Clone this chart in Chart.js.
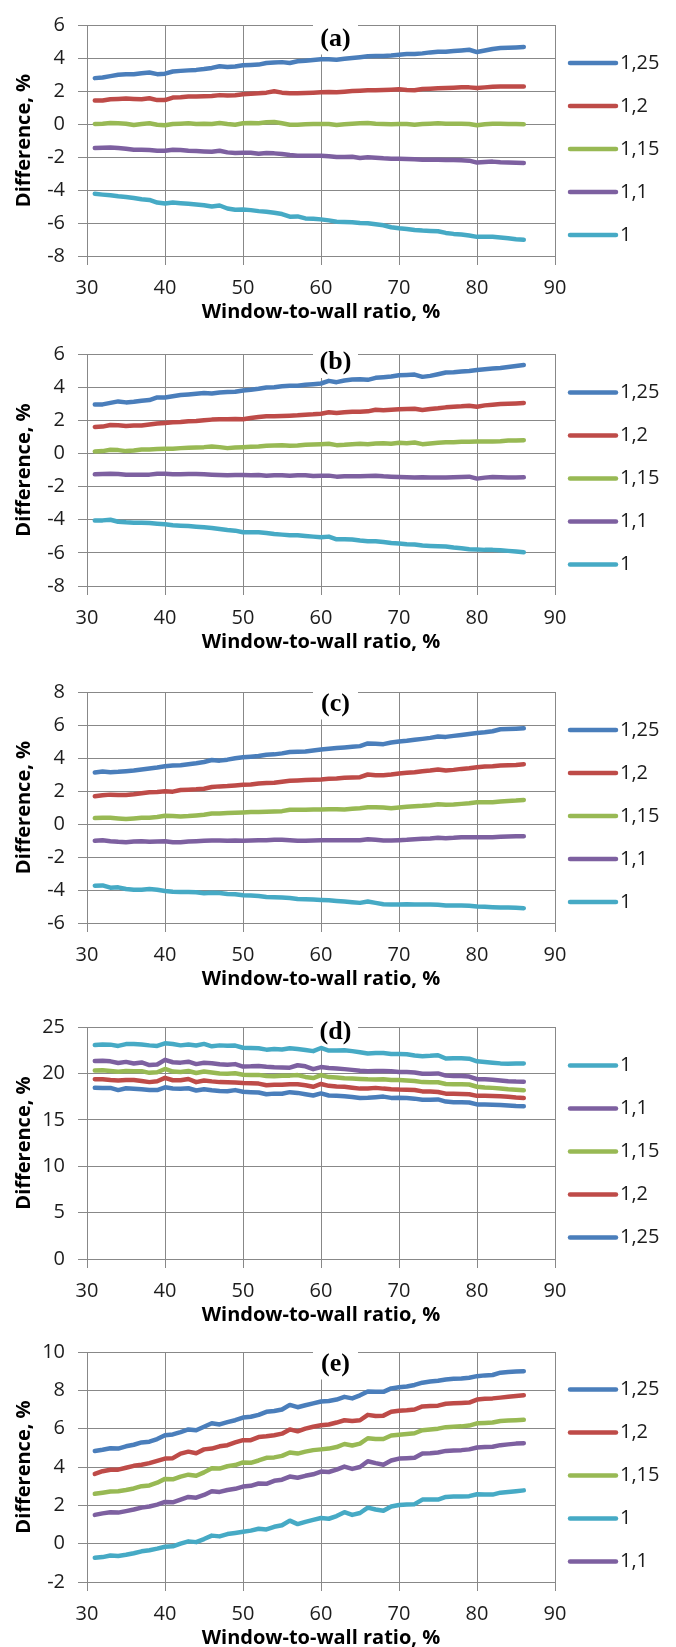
<!DOCTYPE html>
<html><head><meta charset="utf-8">
<script src="https://cdn.jsdelivr.net/npm/chart.js@4/dist/chart.umd.min.js"></script>
<style>
html,body{margin:0;padding:0;background:#fff;}
#wrap{position:relative;width:676px;height:1647px;overflow:hidden;background:#fff;}
canvas{position:absolute;left:0;}
</style></head><body>
<div id="wrap">
<canvas id="pa" width="676" height="324" style="top:0px"></canvas>
<canvas id="pb" width="676" height="325" style="top:329px"></canvas>
<canvas id="pc" width="676" height="324" style="top:667px"></canvas>
<canvas id="pd" width="676" height="325" style="top:1002px"></canvas>
<canvas id="pe" width="676" height="323" style="top:1327px"></canvas>
</div>
<script>
// ---------- DATA ----------
const wwr = [31,32,33,34,35,36,37,38,39,40,
             41,42,43,44,45,46,47,48,49,50,
             51,52,53,54,55,56,57,58,59,60,
             61,62,63,64,65,66,67,68,69,70,
             71,72,73,74,75,76,77,78,79,80,
             81,82,83,84,85,86];

const seriesNames = ['1,25','1,2','1,15','1,1','1'];
const panelTitles = ['(a)','(b)','(c)','(d)','(e)'];
const xTitle = 'Window-to-wall ratio, %';
const yTitle = 'Difference, %';
const xAxisRange = [30, 90, 10];
const yRangeA = [-8, 6, 2];
const yRangeB = [-8, 6, 2];
const yRangeC = [-6, 8, 2];
const yRangeD = [0, 25, 5];
const yRangeE = [-2, 10, 2];

// panel (a)
const a_125 = [2.78,2.82,2.90,2.98,3.02,3.02,3.08,3.12,3.02,3.05,
  3.18,3.22,3.25,3.28,3.33,3.40,3.50,3.45,3.48,3.56,
  3.58,3.60,3.70,3.73,3.75,3.70,3.80,3.84,3.88,3.92,
  3.92,3.90,3.95,4.00,4.05,4.10,4.12,4.12,4.15,4.20,
  4.24,4.24,4.28,4.34,4.38,4.38,4.42,4.46,4.50,4.36,
  4.45,4.55,4.60,4.62,4.64,4.67];
const a_12 = [1.42,1.42,1.50,1.52,1.55,1.52,1.50,1.56,1.45,1.45,
  1.60,1.62,1.66,1.66,1.68,1.70,1.75,1.72,1.74,1.80,
  1.84,1.86,1.90,1.98,1.90,1.86,1.86,1.88,1.90,1.93,
  1.94,1.92,1.96,2.00,2.02,2.04,2.04,2.06,2.08,2.10,
  2.06,2.05,2.12,2.14,2.16,2.18,2.20,2.22,2.22,2.18,
  2.22,2.26,2.28,2.28,2.28,2.28];
const a_115 = [0.00,0.02,0.06,0.04,0.02,-0.06,0.00,0.04,-0.04,-0.08,
  0.00,0.02,0.04,0.00,0.02,0.00,0.06,0.00,-0.04,0.04,
  0.06,0.04,0.10,0.12,0.04,-0.04,-0.04,-0.02,0.00,0.00,
  0.00,-0.06,-0.02,0.02,0.04,0.06,0.02,0.00,-0.02,0.00,
  0.00,-0.04,0.00,0.02,0.04,0.02,0.02,0.02,0.00,-0.08,
  -0.02,0.02,0.02,0.00,0.00,-0.02];
const a_11 = [-1.45,-1.44,-1.42,-1.46,-1.50,-1.56,-1.56,-1.58,-1.62,-1.62,
  -1.56,-1.58,-1.62,-1.64,-1.66,-1.68,-1.62,-1.72,-1.76,-1.74,
  -1.74,-1.80,-1.76,-1.78,-1.82,-1.88,-1.92,-1.92,-1.92,-1.92,
  -1.96,-2.00,-2.00,-1.98,-2.06,-2.02,-2.04,-2.08,-2.10,-2.10,
  -2.12,-2.14,-2.16,-2.16,-2.16,-2.18,-2.18,-2.20,-2.22,-2.34,
  -2.30,-2.28,-2.32,-2.34,-2.35,-2.36];
const a_1 = [-4.23,-4.28,-4.32,-4.38,-4.42,-4.48,-4.56,-4.60,-4.76,-4.82,
  -4.76,-4.80,-4.84,-4.88,-4.92,-5.00,-4.94,-5.12,-5.20,-5.18,
  -5.22,-5.28,-5.32,-5.38,-5.46,-5.62,-5.60,-5.72,-5.74,-5.78,
  -5.84,-5.92,-5.94,-5.96,-6.00,-6.02,-6.08,-6.14,-6.26,-6.32,
  -6.36,-6.42,-6.46,-6.48,-6.50,-6.60,-6.66,-6.70,-6.76,-6.84,
  -6.84,-6.84,-6.88,-6.92,-6.98,-7.02];

// panel (b)
const b_125 = [2.95,2.96,3.05,3.14,3.08,3.12,3.18,3.22,3.38,3.38,
  3.45,3.52,3.56,3.60,3.64,3.62,3.68,3.70,3.72,3.80,
  3.84,3.90,3.98,4.00,4.05,4.08,4.08,4.14,4.18,4.22,
  4.38,4.30,4.40,4.46,4.48,4.44,4.56,4.60,4.64,4.72,
  4.74,4.76,4.62,4.68,4.78,4.88,4.90,4.94,4.98,5.04,
  5.08,5.12,5.16,5.22,5.28,5.34];
const b_12 = [1.60,1.62,1.72,1.70,1.66,1.68,1.68,1.74,1.80,1.84,
  1.88,1.90,1.94,1.96,2.00,2.04,2.06,2.06,2.08,2.06,
  2.14,2.20,2.24,2.24,2.26,2.28,2.30,2.34,2.36,2.40,
  2.48,2.44,2.48,2.52,2.52,2.54,2.64,2.60,2.64,2.66,
  2.68,2.70,2.62,2.68,2.72,2.78,2.82,2.84,2.88,2.82,
  2.90,2.94,2.98,3.00,3.02,3.05];
const b_115 = [0.12,0.14,0.22,0.20,0.14,0.18,0.24,0.24,0.26,0.28,
  0.28,0.32,0.34,0.36,0.38,0.42,0.38,0.32,0.36,0.38,
  0.40,0.42,0.46,0.48,0.50,0.46,0.48,0.52,0.54,0.56,
  0.58,0.50,0.52,0.56,0.58,0.56,0.60,0.62,0.58,0.64,
  0.62,0.66,0.56,0.60,0.64,0.68,0.68,0.70,0.70,0.72,
  0.72,0.72,0.74,0.78,0.78,0.80];
const b_11 = [-1.26,-1.24,-1.22,-1.24,-1.28,-1.28,-1.28,-1.28,-1.22,-1.22,
  -1.26,-1.26,-1.24,-1.24,-1.26,-1.28,-1.30,-1.32,-1.30,-1.30,
  -1.32,-1.30,-1.34,-1.32,-1.32,-1.34,-1.32,-1.32,-1.36,-1.34,
  -1.34,-1.40,-1.38,-1.38,-1.38,-1.36,-1.34,-1.38,-1.40,-1.42,
  -1.44,-1.46,-1.44,-1.46,-1.46,-1.46,-1.44,-1.42,-1.40,-1.52,
  -1.46,-1.42,-1.44,-1.46,-1.46,-1.44];
const b_1 = [-4.05,-4.04,-4.00,-4.12,-4.16,-4.18,-4.18,-4.20,-4.24,-4.28,
  -4.34,-4.36,-4.38,-4.42,-4.46,-4.50,-4.56,-4.62,-4.66,-4.76,
  -4.76,-4.76,-4.80,-4.86,-4.90,-4.94,-4.94,-4.98,-5.02,-5.06,
  -5.02,-5.18,-5.18,-5.20,-5.26,-5.30,-5.30,-5.34,-5.40,-5.44,
  -5.48,-5.50,-5.56,-5.58,-5.60,-5.62,-5.68,-5.72,-5.78,-5.80,
  -5.82,-5.82,-5.84,-5.88,-5.92,-5.96];

// panel (c)
const c_125 = [3.12,3.18,3.14,3.16,3.20,3.24,3.30,3.36,3.42,3.50,
  3.54,3.56,3.62,3.68,3.76,3.88,3.84,3.90,3.98,4.04,
  4.08,4.12,4.20,4.22,4.28,4.36,4.38,4.40,4.46,4.52,
  4.56,4.60,4.64,4.68,4.72,4.88,4.86,4.84,4.94,5.00,
  5.04,5.10,5.16,5.22,5.30,5.28,5.34,5.40,5.46,5.52,
  5.56,5.62,5.74,5.76,5.78,5.80];
const c_12 = [1.68,1.74,1.78,1.76,1.76,1.80,1.86,1.92,1.94,1.98,
  1.96,2.06,2.08,2.10,2.14,2.24,2.28,2.30,2.34,2.38,
  2.40,2.46,2.48,2.50,2.56,2.62,2.64,2.66,2.68,2.70,
  2.74,2.76,2.80,2.82,2.84,3.00,2.96,2.96,3.00,3.06,
  3.10,3.14,3.20,3.24,3.30,3.24,3.28,3.34,3.38,3.44,
  3.48,3.50,3.54,3.56,3.58,3.62];
const c_115 = [0.36,0.38,0.38,0.34,0.30,0.34,0.38,0.38,0.42,0.50,
  0.48,0.46,0.48,0.52,0.56,0.64,0.64,0.66,0.68,0.70,
  0.72,0.72,0.74,0.76,0.78,0.86,0.86,0.86,0.88,0.88,
  0.90,0.90,0.88,0.92,0.96,1.02,1.02,1.00,0.96,1.00,
  1.04,1.08,1.10,1.14,1.20,1.16,1.18,1.22,1.26,1.32,
  1.32,1.32,1.36,1.40,1.42,1.46];
const c_11 = [-1.02,-0.98,-1.04,-1.08,-1.10,-1.06,-1.04,-1.08,-1.06,-1.04,
  -1.10,-1.10,-1.06,-1.04,-1.02,-1.00,-1.00,-1.02,-1.00,-1.02,
  -1.00,-0.98,-0.98,-0.96,-0.96,-0.98,-1.02,-1.02,-1.00,-0.98,
  -0.98,-0.98,-0.98,-0.98,-0.98,-0.92,-0.96,-1.00,-1.00,-0.98,
  -0.96,-0.92,-0.90,-0.88,-0.84,-0.86,-0.84,-0.80,-0.80,-0.80,
  -0.80,-0.80,-0.78,-0.76,-0.74,-0.74];
const c_1 = [-3.74,-3.72,-3.86,-3.84,-3.94,-3.98,-3.98,-3.94,-3.98,-4.06,
  -4.10,-4.12,-4.12,-4.14,-4.20,-4.16,-4.18,-4.24,-4.26,-4.32,
  -4.34,-4.36,-4.42,-4.44,-4.46,-4.48,-4.54,-4.56,-4.58,-4.60,
  -4.62,-4.66,-4.70,-4.74,-4.78,-4.70,-4.78,-4.86,-4.88,-4.88,
  -4.86,-4.88,-4.88,-4.88,-4.90,-4.94,-4.94,-4.94,-4.96,-5.00,
  -5.02,-5.04,-5.06,-5.06,-5.08,-5.10];

// panel (d)
const d_1 = [23.06,23.12,23.10,22.96,23.16,23.18,23.12,23.02,22.96,23.24,
  23.16,23.02,23.12,23.00,23.18,22.92,23.02,22.98,23.00,22.76,
  22.74,22.70,22.56,22.64,22.58,22.72,22.62,22.52,22.40,22.74,
  22.46,22.48,22.50,22.40,22.28,22.14,22.20,22.20,22.10,22.10,
  22.06,21.92,21.86,21.90,21.96,21.60,21.62,21.62,21.58,21.30,
  21.24,21.16,21.08,21.04,21.06,21.08];
const d_11 = [21.34,21.36,21.30,21.12,21.24,21.06,21.18,20.90,20.96,21.46,
  21.20,21.16,21.26,21.00,21.14,21.10,20.98,20.92,21.00,20.74,
  20.76,20.80,20.72,20.66,20.64,20.62,20.88,20.76,20.46,20.68,
  20.58,20.54,20.46,20.38,20.28,20.24,20.26,20.26,20.22,20.14,
  20.14,20.10,19.96,19.96,20.00,19.76,19.72,19.72,19.66,19.38,
  19.36,19.32,19.24,19.16,19.12,19.10];
const d_115 = [20.32,20.34,20.26,20.18,20.26,20.22,20.24,20.06,20.12,20.48,
  20.20,20.16,20.26,20.04,20.20,20.10,20.00,19.96,20.02,19.86,
  19.84,19.84,19.72,19.70,19.74,19.76,19.82,19.62,19.50,19.82,
  19.60,19.56,19.48,19.44,19.40,19.36,19.34,19.36,19.30,19.30,
  19.24,19.18,19.06,19.04,19.04,18.86,18.84,18.82,18.80,18.56,
  18.48,18.44,18.38,18.30,18.24,18.18];
const d_12 = [19.38,19.36,19.28,19.24,19.30,19.28,19.18,19.06,19.16,19.52,
  19.26,19.26,19.40,19.06,19.24,19.14,19.06,19.04,19.02,18.96,
  18.94,18.90,18.72,18.78,18.78,18.84,18.84,18.72,18.56,18.86,
  18.66,18.60,18.56,18.46,18.36,18.38,18.44,18.36,18.30,18.26,
  18.24,18.22,18.06,18.04,18.00,17.82,17.80,17.78,17.76,17.58,
  17.58,17.56,17.54,17.48,17.40,17.34];
const d_125 = [18.46,18.44,18.44,18.20,18.40,18.34,18.28,18.22,18.20,18.50,
  18.38,18.34,18.40,18.16,18.30,18.18,18.10,18.08,18.20,18.02,
  17.98,17.94,17.76,17.82,17.80,17.98,17.90,17.76,17.62,17.84,
  17.62,17.58,17.54,17.46,17.36,17.38,17.44,17.50,17.36,17.38,
  17.36,17.28,17.16,17.16,17.20,16.96,16.90,16.88,16.86,16.66,
  16.64,16.62,16.60,16.54,16.48,16.46];

// panel (e)
const e_125 = [4.84,4.90,4.98,4.96,5.08,5.16,5.28,5.32,5.46,5.66,
  5.70,5.82,5.96,5.92,6.10,6.28,6.22,6.34,6.44,6.58,
  6.62,6.72,6.88,6.92,7.00,7.24,7.12,7.22,7.32,7.42,
  7.44,7.52,7.66,7.58,7.74,7.94,7.92,7.92,8.10,8.16,
  8.20,8.28,8.40,8.46,8.50,8.56,8.60,8.62,8.66,8.74,
  8.78,8.80,8.92,8.96,8.98,9.00];
const e_12 = [3.64,3.78,3.86,3.86,3.96,4.06,4.12,4.20,4.32,4.44,
  4.46,4.70,4.80,4.72,4.92,4.96,5.08,5.14,5.28,5.40,
  5.40,5.56,5.60,5.66,5.74,5.96,5.86,6.00,6.10,6.18,
  6.22,6.32,6.44,6.40,6.44,6.72,6.66,6.68,6.88,6.94,
  6.96,7.00,7.16,7.18,7.20,7.30,7.32,7.34,7.36,7.52,
  7.56,7.58,7.62,7.66,7.70,7.74];
const e_115 = [2.60,2.66,2.72,2.74,2.80,2.88,3.00,3.04,3.18,3.38,
  3.36,3.50,3.60,3.54,3.72,3.94,3.92,4.04,4.10,4.24,
  4.22,4.34,4.48,4.50,4.58,4.76,4.70,4.80,4.88,4.92,
  4.96,5.04,5.20,5.12,5.22,5.50,5.46,5.46,5.64,5.68,
  5.72,5.76,5.92,5.96,6.00,6.08,6.10,6.12,6.16,6.28,
  6.30,6.32,6.40,6.42,6.44,6.46];
const e_1 = [-0.74,-0.70,-0.62,-0.64,-0.58,-0.50,-0.40,-0.34,-0.26,-0.16,
  -0.14,0.00,0.12,0.08,0.24,0.42,0.38,0.50,0.56,0.62,
  0.68,0.78,0.74,0.88,0.96,1.20,1.02,1.14,1.24,1.34,
  1.30,1.44,1.64,1.50,1.60,1.88,1.78,1.72,1.94,2.02,
  2.04,2.06,2.30,2.30,2.30,2.44,2.46,2.46,2.48,2.58,
  2.56,2.56,2.66,2.70,2.74,2.78];
const e_11 = [1.50,1.58,1.64,1.62,1.70,1.78,1.88,1.94,2.04,2.18,
  2.16,2.30,2.44,2.40,2.54,2.74,2.70,2.80,2.86,2.98,
  3.02,3.14,3.12,3.28,3.34,3.50,3.44,3.54,3.62,3.76,
  3.74,3.86,4.02,3.90,4.00,4.30,4.20,4.12,4.34,4.44,
  4.46,4.48,4.70,4.72,4.76,4.84,4.86,4.88,4.92,5.02,
  5.04,5.06,5.14,5.18,5.22,5.24];

// ---------- STYLE ----------
const seriesColor = {
  '1,25': '#4A7EBB',
  '1,2':  '#BE4B48',
  '1,15': '#98B954',
  '1,1':  '#7D60A0',
  '1':    '#46AAC5'
};
const GRID = '#888888';
const TEXT = '#1c1c1c';
const FONT = "'Open Sans', 'DejaVu Sans', sans-serif";

const panelDecor = {
  id: 'panelDecor',
  beforeDatasetsDraw(chart, args, opts) {
    const {ctx, chartArea} = chart;
    const cy = chartArea.top + opts.dy;
    ctx.save();
    ctx.fillStyle = '#ffffff';
    ctx.fillRect(opts.x - 22.5, cy - 17, 45, 32.5);
    ctx.fillStyle = '#000';
    ctx.font = "bold 26px 'Liberation Serif', 'Times New Roman', serif";
    ctx.textAlign = 'center';
    ctx.textBaseline = 'middle';
    ctx.fillText(opts.text, opts.x, cy);
    ctx.restore();
  },
  afterDraw(chart, args, opts) {
    const {ctx, chartArea} = chart;
    const ds = chart.data.datasets;
    const mid = (chartArea.top + chartArea.bottom) / 2 + 8.5;
    const gap = 43;
    const y0 = mid - gap * (ds.length - 1) / 2;
    ctx.save();
    ds.forEach((d, i) => {
      const y = y0 + i * gap;
      ctx.strokeStyle = d.borderColor;
      ctx.lineWidth = 4.5;
      ctx.lineCap = 'round';
      ctx.beginPath();
      ctx.moveTo(570, y);
      ctx.lineTo(616, y);
      ctx.stroke();
      ctx.fillStyle = TEXT;
      ctx.font = "20px " + FONT;
      ctx.textAlign = 'left';
      ctx.textBaseline = 'middle';
      ctx.fillText(d.label, 620, y);
    });
    ctx.restore();
  }
};

function makePanel(id, title, titleDy, yRange, names, values) {
  const datasets = names.map((n, i) => ({
    label: n,
    data: wwr.map((x, k) => ({x: x, y: values[i][k]})),
    borderColor: seriesColor[n],
    backgroundColor: seriesColor[n],
    borderWidth: 4.5,
    pointRadius: 0,
    tension: 0,
    fill: false,
    borderJoinStyle: 'round',
    borderCapStyle: 'round'
  }));
  return new Chart(document.getElementById(id), {
    type: 'line',
    data: {datasets},
    plugins: [panelDecor],
    options: {
      responsive: false,
      animation: false,
      events: [],
      layout: {padding: {left: 0, right: 121, top: 15, bottom: 0}},
      plugins: {
        legend: {display: false},
        tooltip: {enabled: false},
        panelDecor: {text: title, x: 335.5, dy: titleDy}
      },
      scales: {
        x: {
          type: 'linear',
          min: xAxisRange[0], max: xAxisRange[1],
          afterFit: s => { s.height = 68; },
          grid: {color: GRID, lineWidth: 1, tickLength: 9, tickColor: GRID},
          border: {color: GRID, width: 1},
          ticks: {stepSize: xAxisRange[2], padding: 11, color: TEXT, font: {family: FONT, size: 20}, maxRotation: 0},
          title: {display: true, text: xTitle, color: '#000', font: {family: FONT, size: 20, weight: 'bold'}, padding: {top: 0, bottom: 0}}
        },
        y: {
          min: yRange[0], max: yRange[1],
          afterFit: s => { s.width = 87; },
          grid: {color: GRID, lineWidth: 1, tickLength: 9, tickColor: GRID},
          border: {color: GRID, width: 1},
          ticks: {stepSize: yRange[2], padding: 13, color: TEXT, font: {family: FONT, size: 20}},
          title: {display: true, text: yTitle, color: '#000', font: {family: FONT, size: 20, weight: 'bold'}, padding: {top: 12, bottom: 0}}
        }
      }
    }
  });
}

makePanel('pa', panelTitles[0], 14, yRangeA, seriesNames, [a_125, a_12, a_115, a_11, a_1]);
makePanel('pb', panelTitles[1], 8.5, yRangeB, seriesNames, [b_125, b_12, b_115, b_11, b_1]);
makePanel('pc', panelTitles[2], 12, yRangeC, seriesNames, [c_125, c_12, c_115, c_11, c_1]);
makePanel('pd', panelTitles[3], 5, yRangeD, ['1','1,1','1,15','1,2','1,25'], [d_1, d_11, d_115, d_12, d_125]);
makePanel('pe', panelTitles[4], 12, yRangeE, ['1,25','1,2','1,15','1','1,1'], [e_125, e_12, e_115, e_1, e_11]);
</script>
</body></html>
